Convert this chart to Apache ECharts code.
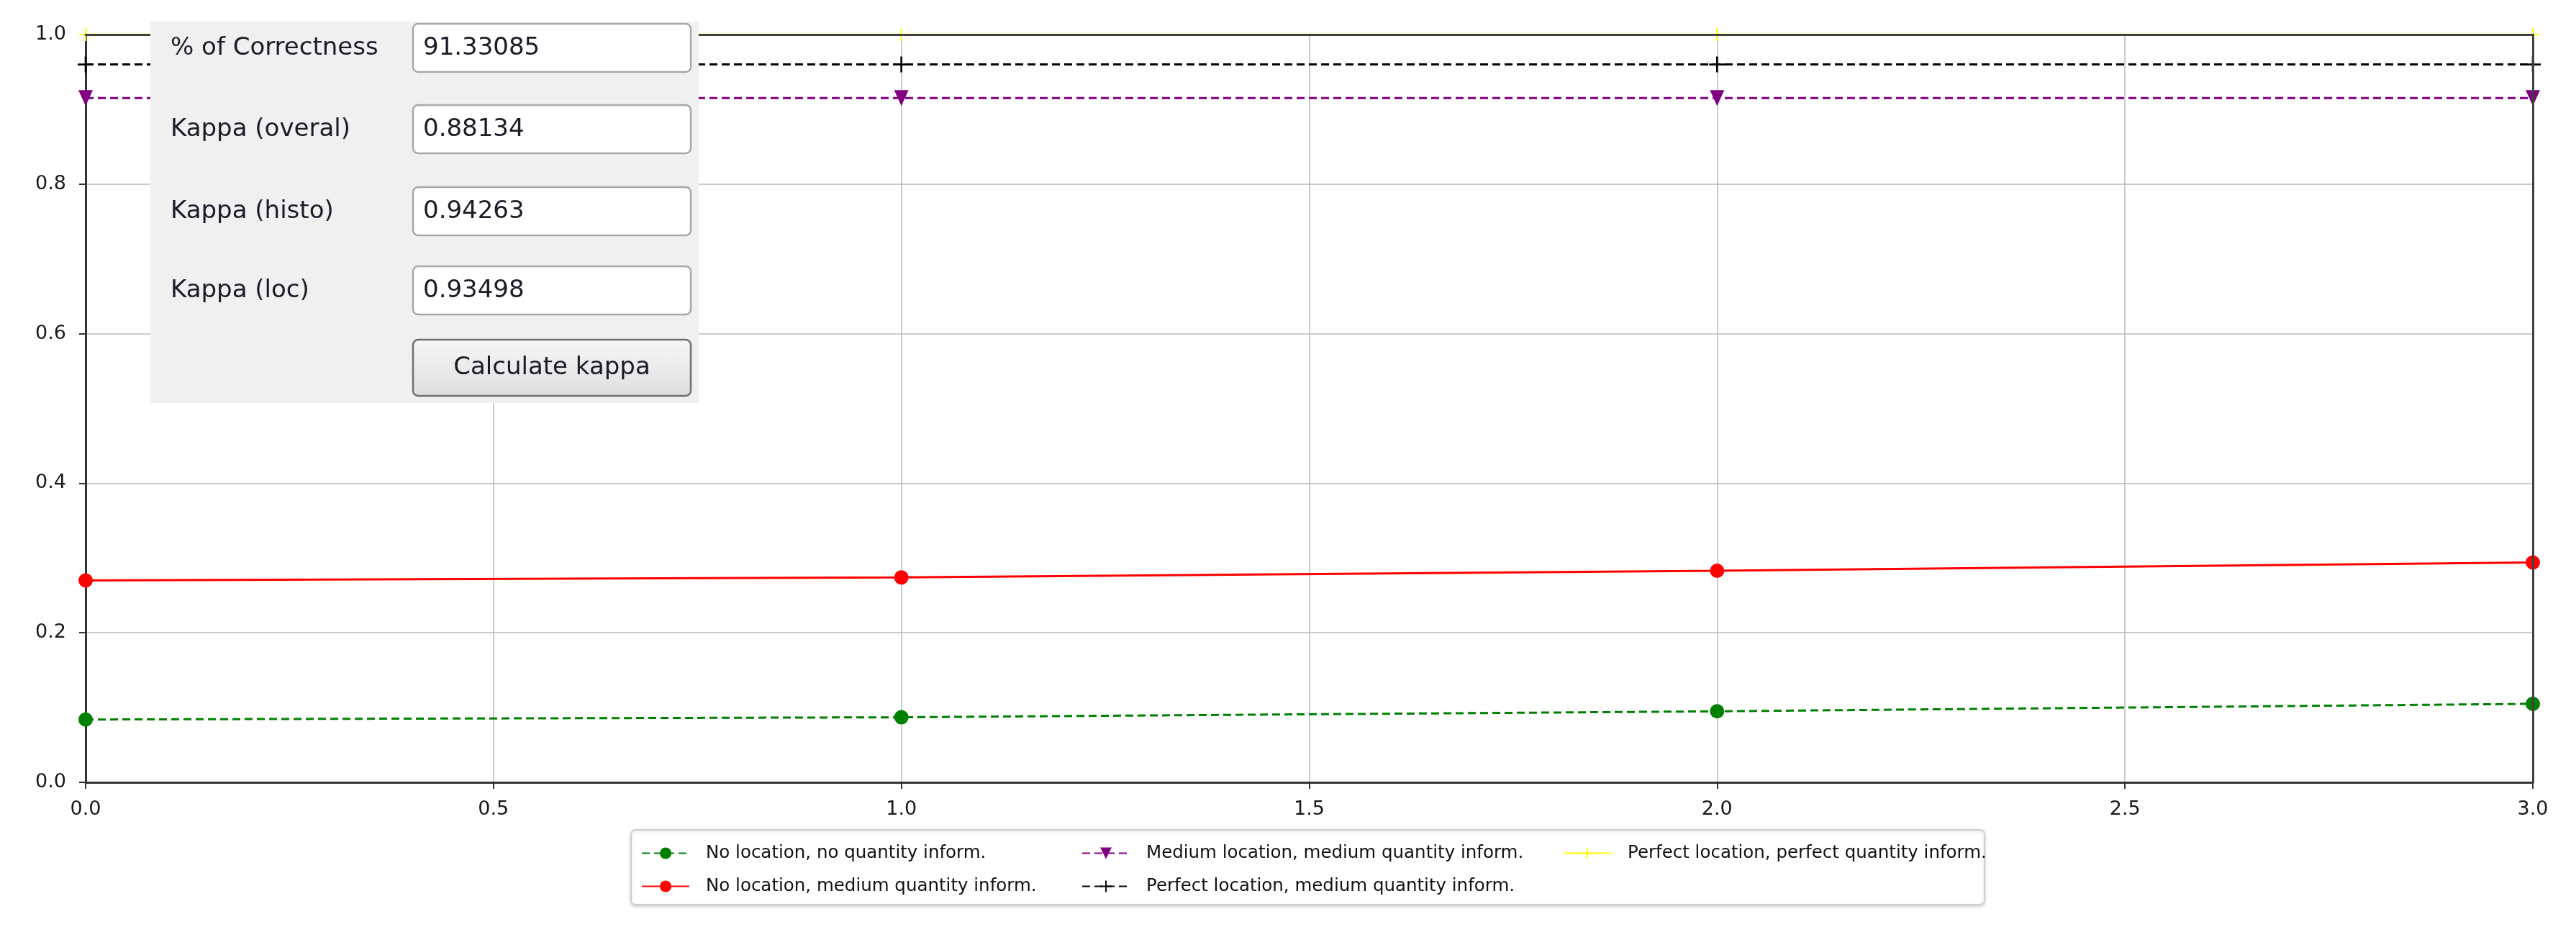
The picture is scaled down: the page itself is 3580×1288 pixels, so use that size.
<!DOCTYPE html>
<html>
<head>
<meta charset="utf-8">
<script src="https://cdn.jsdelivr.net/npm/echarts@6/dist/echarts.min.js"></script>
<style>
  html, body { margin: 0; padding: 0; background: #fff; }
  #chart-panel { width: 3580px; height: 1288px; }
</style>
</head>
<body>
<div id="chart-panel"></div>
<script>
var chart = echarts.init(document.getElementById('chart-panel'));

// x positions of the runs
var xValues = [0, 1, 2, 3];
// kappa curves
var noLocNoQty = [0.084, 0.087, 0.095, 0.105];
var noLocMedQty = [0.270, 0.274, 0.283, 0.294];
var medLocMedQty = [0.915, 0.915, 0.915, 0.915];
var perfLocMedQty = [0.960, 0.960, 0.960, 0.960];
var perfLocPerfQty = [1.0, 1.0, 1.0, 1.0];

var seriesNames = [
    'No location, no quantity inform.',
    'No location, medium quantity inform.',
    'Medium location, medium quantity inform.',
    'Perfect location, medium quantity inform.',
    'Perfect location, perfect quantity inform.'
];

// the little kappa panel pasted over the plot
var panelLabels = ['% of Correctness', 'Kappa (overal)', 'Kappa (histo)', 'Kappa (loc)'];
var panelValues = ['91.33085', '0.88134', '0.94263', '0.93498'];
var buttonText = 'Calculate kappa';

var plus = 'path://M-1.2,-10 L1.2,-10 L1.2,-1.2 L10,-1.2 L10,1.2 L1.2,1.2 L1.2,10 L-1.2,10 L-1.2,1.2 L-10,1.2 L-10,-1.2 L-1.2,-1.2 Z';

function pairs(ys) {
    var d = [];
    for (var i = 0; i < xValues.length; i++) {
        d.push([xValues[i], ys[i]]);
    }
    return d;
}

var font = 'DejaVu Sans';
var panelFont = '34px "' + font + '"';

// panel graphic
var boxTops = [33, 146, 260, 370];
var panel = [{
    type: 'rect',
    shape: { x: 209, y: 30, width: 762, height: 530 },
    style: { fill: '#f0f0f0' },
    z: 100
}];
for (var i = 0; i < panelLabels.length; i++) {
    panel.push({
        type: 'text',
        x: 237, y: boxTops[i] + 34,
        style: { text: panelLabels[i], font: panelFont, fill: '#1c1c28', verticalAlign: 'middle' },
        z: 102
    });
    panel.push({
        type: 'rect',
        shape: { x: 574, y: boxTops[i], width: 386, height: 67, r: 7 },
        style: { fill: '#ffffff', stroke: '#a8a8a8', lineWidth: 2.5 },
        z: 101
    });
    panel.push({
        type: 'text',
        x: 588, y: boxTops[i] + 34,
        style: { text: panelValues[i], font: panelFont, fill: '#1c1c28', verticalAlign: 'middle' },
        z: 102
    });
}
panel.push({
    type: 'rect',
    shape: { x: 574, y: 472, width: 386, height: 78, r: 7 },
    style: {
        fill: new echarts.graphic.LinearGradient(0, 0, 0, 1, [
            { offset: 0, color: '#f7f7f7' },
            { offset: 1, color: '#dedede' }
        ]),
        stroke: '#707070', lineWidth: 2.5
    },
    z: 101
});
panel.push({
    type: 'text',
    x: 767, y: 511,
    style: { text: buttonText, font: panelFont, fill: '#1c1c28', align: 'center', verticalAlign: 'middle' },
    z: 102
});
// legend frame
panel.push({
    type: 'rect',
    shape: { x: 877, y: 1153, width: 1881, height: 104, r: 6 },
    style: { fill: '#ffffff', stroke: '#cfcfcf', lineWidth: 2, shadowColor: 'rgba(0,0,0,0.15)', shadowBlur: 4, shadowOffsetY: 2 },
    z: 0
});

function legendAt(left, names) {
    return {
        orient: 'vertical',
        left: left,
        top: 1168,
        data: names,
        itemWidth: 66,
        itemHeight: 20,
        itemGap: 21,
        z: 5,
        textStyle: { fontFamily: font, fontSize: 24.5, color: '#111', lineHeight: 24, padding: [0, 0, 0, 18] }
    };
}

var tickLabel = { fontFamily: font, fontSize: 27, color: '#1a1a1a', formatter: function (v) { return v.toFixed(1); } };

// top and right edges of the frame, drawn over the lines
var frameAxis = {
    axisLine: { show: true, onZero: false, lineStyle: { color: '#404040', width: 3 } },
    axisTick: { show: false },
    axisLabel: { show: false },
    splitLine: { show: false },
    z: 10
};

var option = {
    backgroundColor: '#ffffff',
    animation: false,
    grid: { left: 119, right: 60, top: 48, bottom: 201 },
    legend: [
        legendAt(886, [seriesNames[0], seriesNames[1]]),
        legendAt(1498, [seriesNames[2], seriesNames[3]]),
        legendAt(2167, [seriesNames[4]])
    ],
    xAxis: [{
        type: 'value', min: 0, max: 3, interval: 0.5,
        axisLine: { lineStyle: { color: '#333', width: 3 } },
        axisTick: { length: 9, lineStyle: { color: '#333', width: 2 } },
        axisLabel: Object.assign({ margin: 24 }, tickLabel),
        splitLine: { lineStyle: { color: '#bababa', width: 1.5 } }
    }, Object.assign({ type: 'value', position: 'top', min: 0, max: 3 }, frameAxis)],
    yAxis: [{
        type: 'value', min: 0, max: 1, interval: 0.2,
        axisLine: { lineStyle: { color: '#333', width: 3 } },
        axisTick: { length: 9, lineStyle: { color: '#333', width: 2 } },
        axisLabel: Object.assign({ margin: 27 }, tickLabel),
        splitLine: { lineStyle: { color: '#bababa', width: 1.5 } }
    }, Object.assign({ type: 'value', position: 'right', min: 0, max: 1 }, frameAxis)],
    graphic: panel,
    series: [{
        name: seriesNames[0], type: 'line', data: pairs(noLocNoQty),
        symbol: 'circle', symbolSize: 20,
        itemStyle: { color: '#008000' },
        lineStyle: { color: '#008000', width: 3, type: [11, 6] }
    }, {
        name: seriesNames[1], type: 'line', data: pairs(noLocMedQty),
        symbol: 'circle', symbolSize: 20,
        itemStyle: { color: '#ff0000' },
        lineStyle: { color: '#ff0000', width: 3 }
    }, {
        name: seriesNames[2], type: 'line', data: pairs(medLocMedQty),
        symbol: 'triangle', symbolSize: [20, 22], symbolRotate: 180,
        itemStyle: { color: '#800080' },
        lineStyle: { color: '#800080', width: 3, type: [11, 6] }
    }, {
        name: seriesNames[3], type: 'line', data: pairs(perfLocMedQty),
        symbol: plus, symbolSize: 22,
        itemStyle: { color: '#000000' },
        lineStyle: { color: '#000000', width: 3, type: [11, 6] }
    }, {
        name: seriesNames[4], type: 'line', data: pairs(perfLocPerfQty),
        symbol: plus, symbolSize: 18,
        itemStyle: { color: '#ffff00' },
        lineStyle: { color: '#ffff00', width: 3 }
    }]
};
chart.setOption(option);
</script>
</body>
</html>
